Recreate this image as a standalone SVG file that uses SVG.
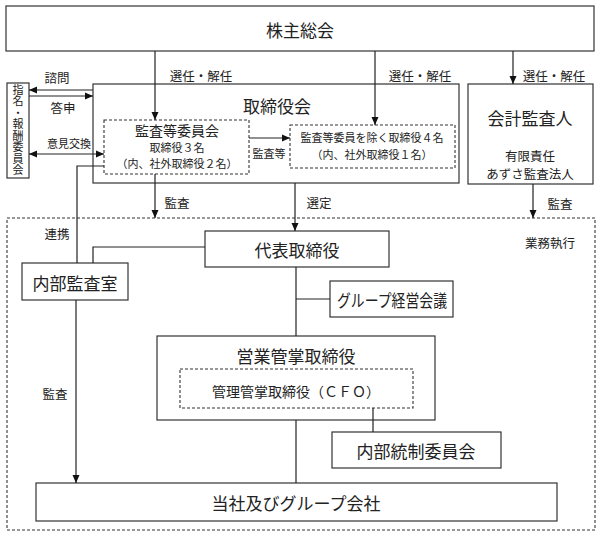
<svg xmlns="http://www.w3.org/2000/svg" width="600" height="536" viewBox="0 0 600 536">
<defs>
<marker id="ah" viewBox="0 0 8 8" refX="8" refY="4" markerWidth="8" markerHeight="8" markerUnits="userSpaceOnUse" orient="auto-start-reverse">
<path d="M0,0.5 L8,4 L0,7.5 Z" fill="#111"/>
</marker>
</defs>
<style>
text{font-family:"Noto Sans CJK JP","Noto Sans CJK SC",sans-serif;fill:#222;text-anchor:middle;dominant-baseline:central}
.box{fill:#fff;stroke:#333;stroke-width:1.2}
.dash{fill:none;stroke:#333;stroke-width:1.1;stroke-dasharray:3,2}
.ln{fill:none;stroke:#222;stroke-width:1.2}
.arr{fill:none;stroke:#222;stroke-width:1.2;marker-end:url(#ah)}
.big{font-size:17px}
.mid{font-size:14px}
.sm{font-size:12.5px}
.xs{font-size:11px}
.vert{font-size:11px;writing-mode:vertical-rl;text-orientation:upright;letter-spacing:0.5px}
</style>
<rect width="600" height="536" fill="#fff"/>

<g id="outer-exec">
<rect class="dash" x="7" y="218" width="588" height="312"/>
<text class="sm" x="550" y="242">業務執行</text>
</g>

<g id="shareholders">
<rect class="box" x="6" y="6" width="588" height="45"/>
<text class="big" x="300" y="29">株主総会</text>
</g>

<g id="board">
<rect class="box" x="93" y="84" width="366" height="99"/>
<text class="big" x="277" y="105">取締役会</text>
</g>

<g id="audit-committee">
<rect class="dash" x="104" y="120" width="145" height="54" fill="#fff"/>
<text class="mid" x="177" y="130">監査等委員会</text>
<text class="xs" x="177" y="146.5">取締役３名</text>
<text class="xs" x="177" y="162.5">（内、社外取締役２名）</text>
</g>

<g id="other-directors">
<rect class="dash" x="290" y="125" width="165" height="43" fill="#fff"/>
<text class="xs" x="372" y="137">監査等委員を除く取締役４名</text>
<text class="xs" x="372" y="154">（内、社外取締役１名）</text>
</g>

<g id="nomination">
<rect class="box" x="7" y="83" width="22" height="95"/>
<text class="vert" x="18" y="130">指名・報酬委員会</text>
</g>

<g id="auditor">
<rect class="box" x="468" y="84" width="125" height="100"/>
<text class="big" x="530" y="117">会計監査人</text>
<text class="sm" x="530" y="155.5">有限責任</text>
<text class="sm" x="530" y="173.5">あずさ監査法人</text>
</g>

<g id="president">
<rect class="box" x="205" y="231" width="184" height="36"/>
<text class="big" x="297" y="249">代表取締役</text>
</g>

<g id="internal-audit">
<rect class="box" x="22" y="263" width="106" height="37"/>
<text class="big" x="75" y="282">内部監査室</text>
</g>

<g id="group-meeting">
<rect class="box" x="330" y="281" width="123" height="36"/>
<text class="big" x="392" y="299" textLength="110" lengthAdjust="spacingAndGlyphs">グループ経営会議</text>
</g>

<g id="sales-director">
<rect class="box" x="157" y="336" width="278" height="84"/>
<text class="big" x="296" y="355">営業管掌取締役</text>
</g>

<g id="cfo">
<rect class="dash" x="180" y="369" width="233" height="39" fill="#fff"/>
<text class="mid" x="296" y="391">管理管掌取締役（ＣＦＯ）</text>
</g>

<g id="internal-control">
<rect class="box" x="332" y="432" width="169" height="36"/>
<text class="big" x="416" y="450">内部統制委員会</text>
</g>

<g id="group-companies">
<rect class="box" x="36" y="483" width="521" height="38"/>
<text class="big" x="296" y="502">当社及びグループ会社</text>
</g>

<g id="connectors">
<path class="arr" d="M155,51 V120"/>
<path class="arr" d="M375,51 V125"/>
<path class="arr" d="M513,51 V84"/>
<path class="arr" d="M93,90 H29"/>
<path class="arr" d="M29,96 H93"/>
<path class="arr" d="M29,154 H104" style="marker-start:url(#ah)"/>
<path class="arr" d="M249,138 H290"/>
<path class="arr" d="M155,174 V218"/>
<path class="arr" d="M295,183 V231"/>
<path class="arr" d="M533,184 V218"/>
<path class="ln" d="M104,166 H77 V263"/>
<path class="ln" d="M205,247 H93 V263"/>
<path class="arr" d="M76,300 V483"/>
<path class="ln" d="M296,267 V336"/>
<path class="ln" d="M296,299 H330"/>
<path class="ln" d="M296,420 V483"/>
<path class="ln" d="M373,408 V432"/>
</g>

<g id="labels">
<text class="sm" x="201" y="75">選任・解任</text>
<text class="sm" x="420" y="75">選任・解任</text>
<text class="sm" x="554" y="75">選任・解任</text>
<text class="sm" x="57" y="77">諮問</text>
<text class="sm" x="63" y="107">答申</text>
<text class="xs" x="69" y="143">意見交換</text>
<text class="xs" x="269" y="153">監査等</text>
<text class="sm" x="177" y="202">監査</text>
<text class="sm" x="319" y="202">選定</text>
<text class="sm" x="560" y="203">監査</text>
<text class="sm" x="57" y="233">連携</text>
<text class="sm" x="55" y="393">監査</text>
</g>
</svg>
